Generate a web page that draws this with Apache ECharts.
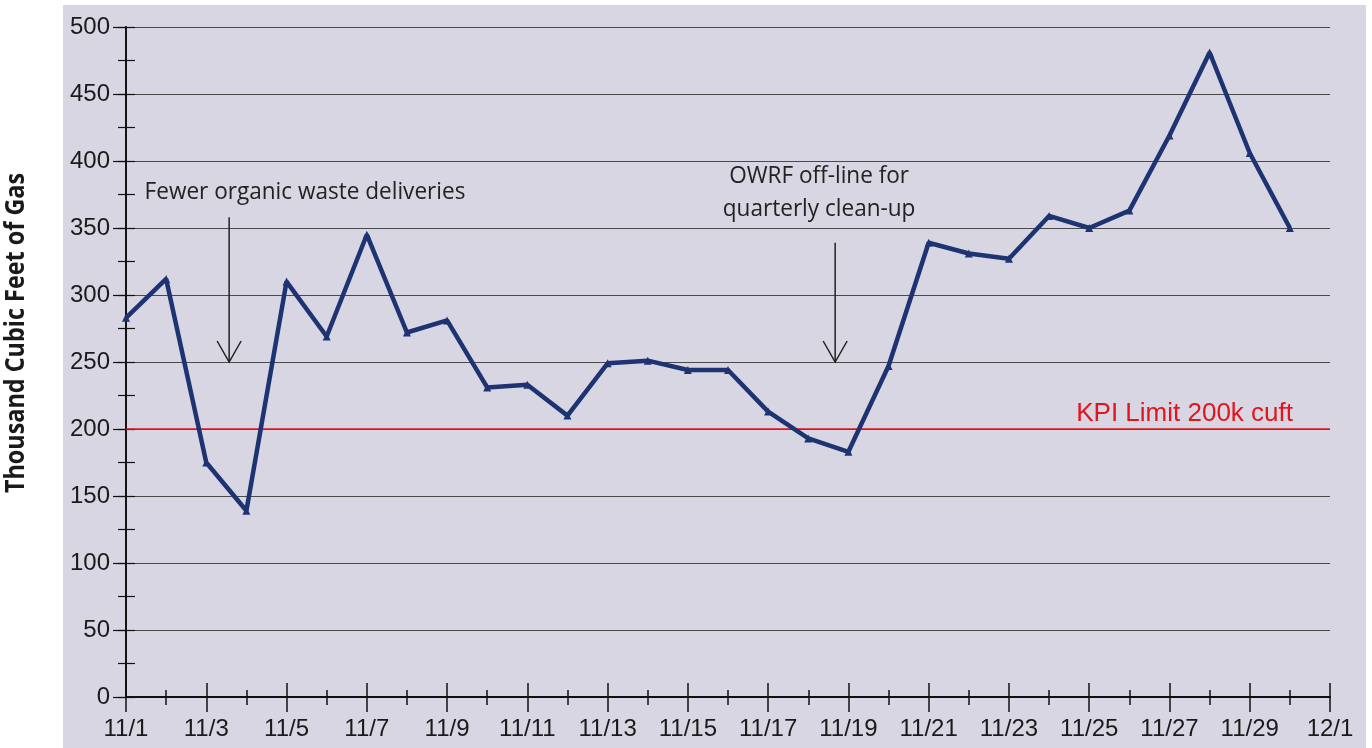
<!DOCTYPE html>
<html>
<head>
<meta charset="utf-8">
<script src="https://cdn.jsdelivr.net/npm/echarts@6/dist/echarts.min.js"></script>
<style>
  html, body { margin: 0; padding: 0; background: #ffffff; }
  #chart { width: 1372px; height: 748px; }
</style>
</head>
<body>
<div id="chart"></div>
<script>
// Daily gas production, November
const dayLabels = ['11/1','11/2','11/3','11/4','11/5','11/6','11/7','11/8','11/9','11/10',
  '11/11','11/12','11/13','11/14','11/15','11/16','11/17','11/18','11/19','11/20',
  '11/21','11/22','11/23','11/24','11/25','11/26','11/27','11/28','11/29','11/30','12/1'];
const gasValues = [283, 312, 175, 139, 310, 269, 345, 272, 281, 231,
  233, 210, 249, 251, 244, 244, 213, 193, 183, 247,
  339, 331, 327, 359, 350, 363, 419, 481, 406, 350];
const kpiLimit = 200;
const kpiText = 'KPI Limit 200k cuft';
const yAxisTitle = 'Thousand Cubic Feet of Gas';
// Notes: arrow at day x from arrowTop down to arrowTip; text lines at [day, value]
const notes = [
  { x: 2.57, arrowTop: 358, arrowTip: 250,
    lines: [{ text: 'Fewer organic waste deliveries', at: [4.46, 377] }] },
  { x: 17.67, arrowTop: 339, arrowTip: 250,
    lines: [{ text: 'OWRF off-line for', at: [17.27, 389] },
            { text: 'quarterly clean-up', at: [17.27, 364] }] }
];

const chart = echarts.init(document.getElementById('chart'), null, { renderer: 'canvas' });
const grid = { left: 126, right: 42, top: 27, bottom: 51 };
const lastDay = dayLabels.length - 1;
const axisFont = { fontFamily: 'Liberation Sans, Arial, sans-serif', color: '#1a1a1a' };

function xAxisLayer(interval, inside, length, showLabel) {
  return {
    type: 'value', min: 0, max: lastDay, interval: interval, position: 'bottom',
    axisLine: { show: true, lineStyle: { color: '#111', width: 1.5 } },
    axisTick: { show: true, inside: inside, length: length, lineStyle: { color: '#111', width: 1.5 } },
    axisLabel: showLabel ? Object.assign({ show: true, fontSize: 24, margin: 20,
      formatter: v => dayLabels[v] || '' }, axisFont) : { show: false },
    splitLine: { show: false }
  };
}
function yAxisLayer(interval, inside, length, showLabel, showSplit) {
  return {
    type: 'value', min: 0, max: 500, interval: interval, position: 'left',
    axisLine: { show: true, lineStyle: { color: '#111', width: 1.5 } },
    axisTick: { show: true, inside: inside, length: length, lineStyle: { color: '#111', width: 1.2 } },
    axisLabel: showLabel ? Object.assign({ show: true, fontSize: 24, margin: 16 }, axisFont) : { show: false },
    splitLine: { show: showSplit, lineStyle: { color: '#4a4a4a', width: 1 } }
  };
}

const baseGraphic = [
  { type: 'rect', z: -10, silent: true, shape: { x: 63, y: 5, width: 1303, height: 743 },
    style: { fill: '#d8d6e2' } },
  { type: 'text', x: 17, y: 333, rotation: Math.PI / 2, scaleX: 0.9, silent: true,
    style: { text: yAxisTitle, fill: '#1a1a1a', font: 'bold 26px "Open Sans", sans-serif',
      align: 'center', verticalAlign: 'middle' } }
];

chart.setOption({
  backgroundColor: '#ffffff',
  animation: false,
  grid: grid,
  xAxis: [
    xAxisLayer(2, false, 15, true),
    xAxisLayer(2, true, 14, false),
    xAxisLayer(1, false, 8, false),
    xAxisLayer(1, true, 7, false)
  ],
  yAxis: [
    yAxisLayer(50, false, 13, true, true),
    yAxisLayer(25, false, 8, false, false),
    yAxisLayer(25, true, 9, false, false)
  ],
  graphic: baseGraphic,
  series: [{
    type: 'line',
    xAxisIndex: 0, yAxisIndex: 0,
    data: gasValues.map((v, i) => [i, v]),
    symbol: 'triangle', symbolSize: 8,
    lineStyle: { color: '#1e3372', width: 4.5 },
    itemStyle: { color: '#1e3372' },
    z: 5,
    markLine: {
      silent: true, symbol: 'none', z: 3,
      lineStyle: { color: '#e3141b', width: 1.6, type: 'solid' },
      label: { show: true, position: 'insideEndTop', formatter: kpiText, color: '#e3141b',
        fontSize: 26, fontFamily: 'Liberation Sans, Arial, sans-serif', distance: [37, 2] },
      data: [{ yAxis: kpiLimit }]
    }
  }]
});

// Annotation notes with open-headed arrows, placed in data coordinates
const toPx = p => chart.convertToPixel({ xAxisIndex: 0, yAxisIndex: 0 }, p);
const extra = [];
notes.forEach(n => {
  const top = toPx([n.x, n.arrowTop]);
  const tip = toPx([n.x, n.arrowTip]);
  extra.push({ type: 'line', silent: true, z: 20,
    shape: { x1: top[0], y1: top[1], x2: tip[0], y2: tip[1] },
    style: { stroke: '#222', lineWidth: 1.5 } });
  extra.push({ type: 'polyline', silent: true, z: 20,
    shape: { points: [[tip[0] - 12, tip[1] - 21], [tip[0], tip[1]], [tip[0] + 12, tip[1] - 21]] },
    style: { stroke: '#222', lineWidth: 1.5, fill: null } });
  n.lines.forEach(l => {
    const p = toPx(l.at);
    extra.push({ type: 'text', silent: true, z: 20, x: p[0], y: p[1], scaleX: 0.94,
      style: { text: l.text, fill: '#222', font: '24px "Open Sans", sans-serif',
        align: 'center', verticalAlign: 'middle' } });
  });
});
chart.setOption({ graphic: baseGraphic.concat(extra) }, { replaceMerge: ['graphic'] });
</script>
</body>
</html>
